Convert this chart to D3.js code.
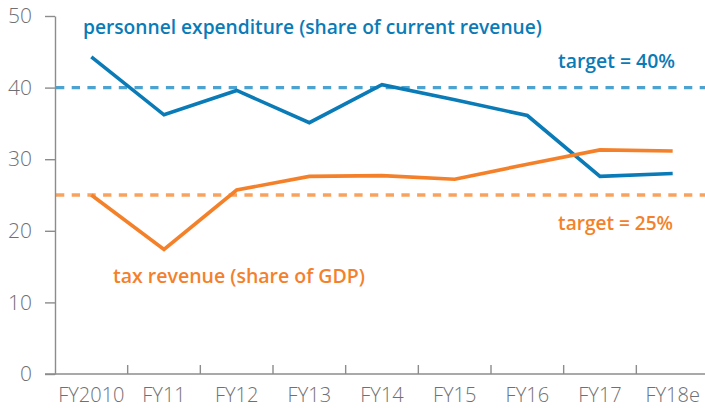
<!DOCTYPE html>
<html>
<head>
<meta charset="utf-8">
<script src="https://cdn.jsdelivr.net/npm/d3@7"></script>
<style>
  body { margin: 0; background: #fff; }
  svg text { font-family: "Open Sans", Lato, sans-serif; }
</style>
</head>
<body>
<svg id="chart" width="705" height="408"></svg>
<script>
// fiscal years on the x axis
const years = ['FY2010', 'FY11', 'FY12', 'FY13', 'FY14', 'FY15', 'FY16', 'FY17', 'FY18e'];
// personnel expenditure, % of current revenue
const personnel = [44.3, 36.2, 39.6, 35.1, 40.4, 38.3, 36.1, 27.6, 28.0];
// tax revenue, % of GDP
const taxRevenue = [25.0, 17.4, 25.7, 27.6, 27.7, 27.2, 29.3, 31.3, 31.15];
const yTicks = [0, 10, 20, 30, 40, 50];
const targets = [40, 25];

const BLUE = '#0a7bb7', ORANGE = '#f4812a';
const BLUE_LIGHT = '#4ca3d1', ORANGE_LIGHT = '#f9a25d';
const GREY = '#6f7073';

const svg = d3.select('#chart');
const m = { left: 55, right: -4, top: 16, bottom: 34 };
const W = 705, H = 408;

const x = d3.scaleBand()
  .domain(years)
  .range([m.left, W - m.right]);

const y = d3.scaleLinear()
  .domain([0, 50])
  .range([H - m.bottom, m.top]);

// shrink or grow a text's font size until it is as wide as in the original
let fitWidth = (sel, widthOf) => {
  sel.each(function(d) {
    let t = d3.select(this);
    let fs = parseFloat(t.style('font-size'));
    let w = this.getComputedTextLength();
    t.style('font-size', (fs * widthOf(d) / w).toFixed(2) + 'px');
  });
}

// target lines first so the series sit over them
svg.selectAll('.target')
  .data(targets)
  .enter().append('line')
    .attr('class', 'target')
    .attr('x1', m.left + 1)
    .attr('x2', W)
    .attr('y1', d => y(d))
    .attr('y2', d => y(d))
    .attr('stroke', (d, i) => i == 0 ? BLUE_LIGHT : ORANGE_LIGHT)
    .attr('stroke-width', 3.3)
    .attr('stroke-dasharray', '8.3,7.4');

// y axis
const yAxis = svg.append('g')
  .attr('transform', 'translate(' + m.left + ',0)')
  .call(d3.axisLeft(y).tickValues(yTicks).tickSize(10).tickPadding(13).tickSizeOuter(0));
yAxis.select('.domain').attr('stroke', '#8c8c8c').attr('stroke-width', 1.4);
yAxis.selectAll('.tick line').attr('stroke', '#8c8c8c').attr('stroke-width', 1.4);
yAxis.selectAll('.tick text')
  .attr('fill', GREY)
  .style('font-size', '21px')
  .style('font-weight', 300);

// x axis: ticks on band edges, pointing up
const xAxis = svg.append('g')
  .attr('transform', 'translate(0,' + y(0) + ')');
xAxis.append('line')
  .attr('x1', m.left - 10).attr('x2', W)
  .attr('stroke', '#8c8c8c').attr('stroke-width', 1.4);
xAxis.selectAll('.edge')
  .data(years.slice(1))
  .enter().append('line')
    .attr('class', 'edge')
    .attr('x1', d => x(d)).attr('x2', d => x(d))
    .attr('y1', 0).attr('y2', -9)
    .attr('stroke', '#8c8c8c').attr('stroke-width', 1.4);
xAxis.selectAll('.lbl')
  .data(years)
  .enter().append('text')
    .attr('class', 'lbl')
    .attr('x', d => x(d) + x.bandwidth() / 2)
    .attr('y', 27.5)
    .attr('text-anchor', 'middle')
    .attr('fill', GREY)
    .style('font-size', '20px')
    .style('font-weight', 300)
    .text(d => d);

// series lines
const line = d3.line()
  .x((d, i) => x(years[i]) + x.bandwidth() / 2)
  .y(d => y(d));

[[personnel, BLUE], [taxRevenue, ORANGE]].forEach(([vals, col]) => {
  svg.append('path')
    .datum(vals)
    .attr('fill', 'none')
    .attr('stroke', col)
    .attr('stroke-width', 3.6)
    .attr('stroke-linejoin', 'miter')
    .attr('d', line);
});

// labels
const labels = [
  { t: 'personnel expenditure (share of current revenue)', x: 83, y: 34, w: 459, c: BLUE, a: 'start' },
  { t: 'target = 40%', x: 675, y: 68, w: 117, c: BLUE, a: 'end' },
  { t: 'target = 25%', x: 673, y: 230, w: 115, c: ORANGE, a: 'end' },
  { t: 'tax revenue (share of GDP)', x: 113, y: 283, w: 252, c: ORANGE, a: 'start' }
];
svg.selectAll('.note')
  .data(labels)
  .enter().append('text')
    .attr('class', 'note')
    .attr('x', d => d.x)
    .attr('y', d => d.y)
    .attr('text-anchor', d => d.a)
    .attr('fill', d => d.c)
    .style('font-size', '18px')
    .style('font-weight', 600)
    .text(d => d.t)
    .call(fitWidth, d => d.w);
</script>
</body>
</html>
